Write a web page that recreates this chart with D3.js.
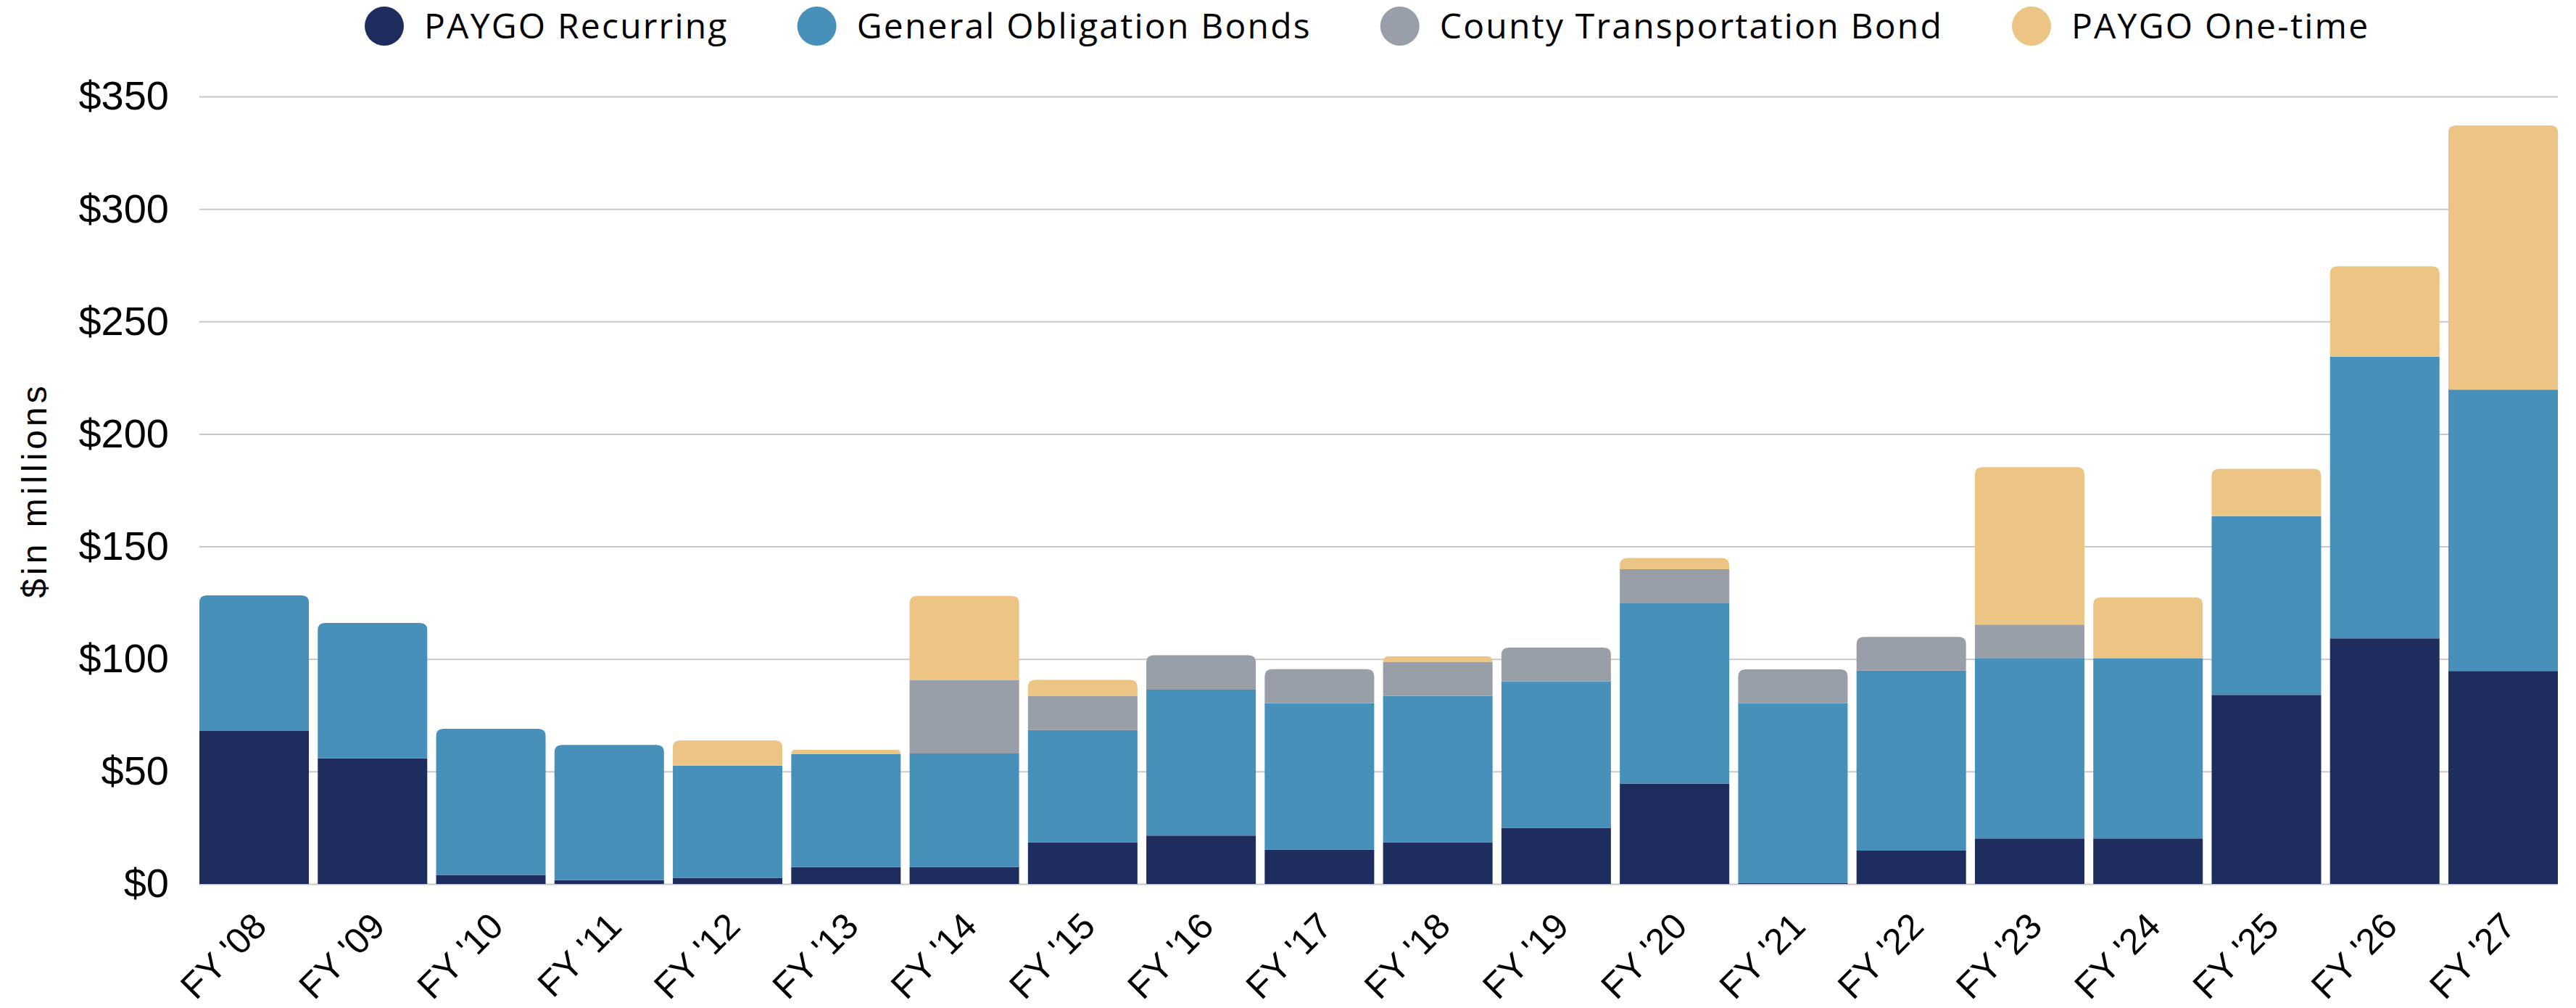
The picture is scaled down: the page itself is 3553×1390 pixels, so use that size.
<!DOCTYPE html>
<html>
<head>
<meta charset="utf-8">
<script src="https://cdn.jsdelivr.net/npm/d3@7"></script>
<style>
  body { margin: 0; background: #fff; }
  svg { display: block; }
</style>
</head>
<body>
<svg width="3553" height="1390"></svg>
<script>
// capital funding by source, $ in millions
let years = ["FY '08", "FY '09", "FY '10", "FY '11", "FY '12", "FY '13", "FY '14", "FY '15", "FY '16", "FY '17",
  "FY '18", "FY '19", "FY '20", "FY '21", "FY '22", "FY '23", "FY '24", "FY '25", "FY '26", "FY '27"]
let paygoRecurring = [68.0, 55.8, 4.0, 1.7, 2.7, 7.5, 7.6, 18.5, 21.5, 15.3, 18.5, 25.0, 44.6, 0.3, 14.8, 20.2, 20.2, 84.0, 109.2, 94.7]
let goBonds = [60.3, 60.2, 65.0, 60.1, 49.9, 50.2, 50.4, 49.9, 64.9, 65.0, 65.1, 65.0, 80.1, 80.0, 80.0, 80.0, 80.0, 79.5, 125.2, 125.0]
let countyBond = [0, 0, 0, 0, 0, 0, 32.7, 15.2, 15.3, 15.2, 15.1, 15.1, 15.2, 15.1, 15.0, 15.1, 0, 0, 0, 0]
let paygoOneTime = [0, 0, 0, 0, 11.2, 1.9, 37.3, 7.1, 0, 0, 2.5, 0, 5.0, 0, 0, 69.9, 27.2, 21.0, 40.1, 117.4]
let yTicks = [0, 50, 100, 150, 200, 250, 300, 350]

let seriesNames = ['PAYGO Recurring', 'General Obligation Bonds', 'County Transportation Bond', 'PAYGO One-time']
let keys = ['recurring', 'go', 'county', 'onetime']
let colors = ['#1f2d5e', '#4790b9', '#989fa8', '#ecc483']

let margin = { top: 133, bottom: 171, left: 275, right: 25 }
let width = 3553
let height = 1390

let rows = years.map((year, i) => ({
  year: year,
  recurring: paygoRecurring[i],
  go: goBonds[i],
  county: countyBond[i],
  onetime: paygoOneTime[i]
}))

let xScale = d3.scaleBand()
  .domain(years)
  .range([margin.left, width - margin.right])
  .paddingInner(0.075)
  .paddingOuter(0)

let yScale = d3.scaleLinear()
  .domain([0, 350])
  .range([height - margin.bottom, margin.top])

let svg = d3.select('svg')

// gridlines + y labels
let yAxis = svg.append('g')
  .attr('transform', `translate(${margin.left}, 0)`)
  .call(d3.axisLeft(yScale)
    .tickValues(yTicks)
    .tickFormat(d => '$' + d)
    .tickSize(-(width - margin.left - margin.right))
    .tickPadding(42))
yAxis.select('.domain').remove()
yAxis.selectAll('line')
  .attr('stroke', '#c8c8c8')
  .attr('stroke-width', 2)
yAxis.selectAll('text')
  .attr('font-family', 'Liberation Sans, Arial, sans-serif')
  .attr('font-size', 56)
  .attr('fill', '#000')

svg.append('text')
  .attr('transform', `translate(64, ${(margin.top + height - margin.bottom) / 2}) rotate(-90)`)
  .attr('text-anchor', 'middle')
  .attr('font-family', 'Liberation Sans, Arial, sans-serif')
  .attr('font-size', 48)
  .attr('letter-spacing', 5)
  .text('$in millions')

// stacked bars, top segment gets rounded corners
let stacked = d3.stack().keys(keys)(rows)
let topIndex = rows.map(r => {
  let idx = 0
  keys.forEach((k, j) => { if (r[k] > 0) idx = j })
  return idx
})

function roundTop(x, y0, y1, w, r) {
  r = Math.min(r, (y0 - y1), w / 2)
  return `M${x},${y0}V${y1 + r}Q${x},${y1} ${x + r},${y1}H${x + w - r}Q${x + w},${y1} ${x + w},${y1 + r}V${y0}Z`
}

stacked.forEach((layer, j) => {
  svg.append('g')
    .attr('fill', colors[j])
    .selectAll('path')
    .data(layer.filter(d => d[1] - d[0] > 0))
    .enter()
    .append('path')
    .attr('d', d => {
      let i = years.indexOf(d.data.year)
      let x = xScale(d.data.year)
      let y0 = yScale(d[0])
      let y1 = yScale(d[1])
      let r = topIndex[i] === j ? 10 : 0
      return roundTop(x, y0, y1, xScale.bandwidth(), r)
    })
})

// x labels
let xAxis = svg.append('g')
  .attr('transform', `translate(0, ${height - margin.bottom})`)
  .call(d3.axisBottom(xScale).tickSize(0))
xAxis.select('.domain').remove()
xAxis.selectAll('text')
  .attr('y', 0)
  .attr('dy', 0)
  .attr('text-anchor', 'end')
  .attr('transform', 'translate(20, 61) rotate(-45)')
  .attr('font-family', 'Liberation Sans, Arial, sans-serif')
  .attr('font-size', 50)
  .attr('fill', '#000')

// legend
let legend = svg.append('g')
let lx = 530
seriesNames.forEach((name, j) => {
  legend.append('circle')
    .attr('cx', lx)
    .attr('cy', 36)
    .attr('r', 27)
    .attr('fill', colors[j])
  let t = legend.append('text')
    .attr('x', lx + 55)
    .attr('y', 53)
    .attr('font-family', 'Open Sans, sans-serif')
    .attr('font-size', 48)
    .attr('letter-spacing', 2.2)
    .attr('fill', '#000')
    .text(name)
  lx = lx + 55 + t.node().getComputedTextLength() + 122
})
</script>
</body>
</html>
